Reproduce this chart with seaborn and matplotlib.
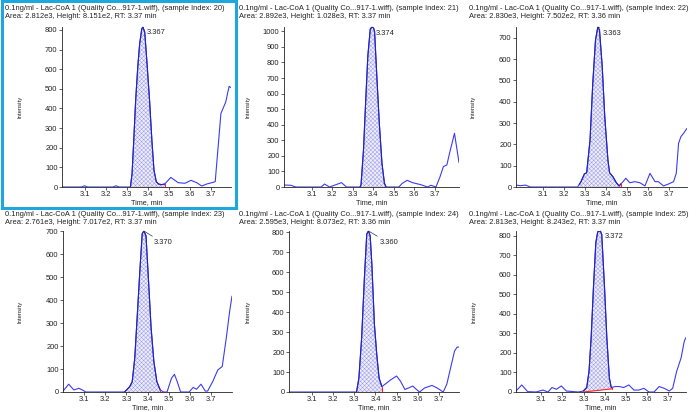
import numpy as np
import matplotlib
matplotlib.use('Agg')
import matplotlib.pyplot as plt
import seaborn as sns
from matplotlib.patches import Rectangle

# ── Chromatogram traces (time, min / intensity, cps) ─────
t20 = [2.993, 3.085, 3.1, 3.115, 3.235, 3.25, 3.265, 3.318, 3.326, 3.334, 3.343, 3.353, 3.362, 3.372, 3.377,
       3.386, 3.396, 3.409, 3.42, 3.43, 3.441, 3.452, 3.466, 3.481, 3.51, 3.545, 3.577, 3.606, 3.633, 3.657,
       3.68, 3.705, 3.721, 3.748, 3.771, 3.787, 3.796]
i20 = [0, 0, 6, 0, 0, 6, 0, 0, 69, 239, 442, 611, 729, 805, 815,
       790, 645, 442, 239, 86, 27, 15, 12, 15, 49, 22, 19, 34, 22, 5,
       15, 22, 27, 374, 433, 513, 506]

t21 = [2.965, 2.998, 3.023, 3.146, 3.162, 3.187, 3.245, 3.269, 3.335, 3.34, 3.352, 3.363, 3.373, 3.385, 3.393,
       3.401, 3.406, 3.417, 3.429, 3.442, 3.454, 3.462, 3.524, 3.541, 3.565, 3.59, 3.631, 3.664, 3.68, 3.705,
       3.725, 3.741, 3.758, 3.771, 3.795, 3.817]
i21 = [13, 11, 0, 0, 19, 0, 28, 0, 0, 13, 238, 560, 839, 1015, 1028,
       1021, 1000, 710, 410, 152, 24, 0, 0, 24, 43, 28, 15, 0, 11, 0,
       67, 131, 142, 217, 345, 157]

t22 = [2.972, 2.993, 3.017, 3.041, 3.265, 3.281, 3.297, 3.308, 3.324, 3.337, 3.35, 3.361, 3.369, 3.382, 3.394,
       3.409, 3.417, 3.433, 3.449, 3.462, 3.481, 3.494, 3.513, 3.537, 3.561, 3.585, 3.609, 3.633, 3.649, 3.673,
       3.697, 3.721, 3.734, 3.745, 3.756, 3.769, 3.785]
i22 = [9, 6, 9, 0, 0, 25, 61, 67, 220, 486, 689, 750, 736, 564, 330,
       127, 67, 48, 20, 5, 25, 41, 20, 25, 20, 5, 64, 25, 25, 5,
       14, 25, 64, 205, 236, 252, 275]

t23 = [3.001, 3.028, 3.052, 3.076, 3.092, 3.108, 3.291, 3.315, 3.327, 3.339, 3.352, 3.363, 3.374, 3.382, 3.392,
       3.403, 3.416, 3.429, 3.443, 3.459, 3.475, 3.491, 3.512, 3.526, 3.539, 3.555, 3.595, 3.614, 3.63, 3.651,
       3.671, 3.682, 3.706, 3.73, 3.751, 3.77, 3.786, 3.797]
i23 = [4, 34, 9, 16, 9, 0, 0, 23, 45, 148, 352, 528, 690, 702, 681,
       499, 279, 133, 45, 9, 0, 0, 60, 77, 45, 0, 0, 20, 12, 34,
       4, 4, 45, 96, 111, 235, 352, 418]

t24 = [2.994, 3.311, 3.322, 3.335, 3.348, 3.359, 3.367, 3.375, 3.383, 3.395, 3.406, 3.417, 3.43, 3.446, 3.47,
       3.499, 3.517, 3.538, 3.555, 3.575, 3.59, 3.607, 3.63, 3.665, 3.69, 3.718, 3.735, 3.748, 3.771, 3.783,
       3.792]
i24 = [0, 0, 69, 271, 573, 792, 807, 783, 640, 338, 187, 69, 27, 40, 60,
       80, 55, 13, 20, 30, 15, 0, 20, 33, 20, 0, 40, 100, 205, 225,
       225]

t25 = [2.981, 3.008, 3.036, 3.076, 3.108, 3.132, 3.151, 3.172, 3.195, 3.219, 3.275, 3.299, 3.315, 3.326, 3.336,
       3.347, 3.358, 3.367, 3.379, 3.386, 3.399, 3.41, 3.422, 3.431, 3.45, 3.469, 3.49, 3.514, 3.538, 3.562,
       3.585, 3.609, 3.633, 3.657, 3.681, 3.705, 3.721, 3.74, 3.761, 3.776, 3.784]
i25 = [5, 36, 2, 0, 10, 0, 23, 14, 31, 5, 0, 5, 23, 106, 279,
       539, 764, 820, 824, 807, 539, 279, 71, 23, 28, 28, 23, 36, 10, 10,
       19, 0, 0, 28, 19, 5, 19, 106, 175, 261, 279]

sample_index = [20, 21, 22, 23, 24, 25]
areas = ['2.812e3', '2.892e3', '2.830e3', '2.761e3', '2.595e3', '2.813e3']
heights = ['8.151e2', '1.028e3', '7.502e2', '7.017e2', '8.073e2', '8.243e2']
rts = ['3.37', '3.37', '3.36', '3.37', '3.36', '3.37']
apex_labels = ['3.367', '3.374', '3.363', '3.370', '3.360', '3.372']
y_max_tick = [800, 1000, 700, 700, 800, 800]

# integration window: start, end, baseline intensity at start / end
base_start = [3.318, 3.335, 3.273, 3.291, 3.311, 3.299]
base_end = [3.481, 3.462, 3.473, 3.459, 3.430, 3.434]
base_y0 = [0, 0, 0, 0, 0, 0]
base_y1 = [0, 0, 0, 0, 0, 16]

traces = [(t20, i20), (t21, i21), (t22, i22), (t23, i23), (t24, i24), (t25, i25)]
x_ticks = [3.1, 3.2, 3.3, 3.4, 3.5, 3.6, 3.7]

# ── Style / layout (pixels on a 696x412 canvas) ──────────
W, H = 696, 412
boxes = [(62, 27, 231, 187), (284, 27, 459, 187), (516, 27, 687, 187),
         (63, 231, 232, 392), (289, 231, 459, 392), (516, 231, 686, 392)]
title_x = [5, 239, 469, 5, 239, 469]
title_y = [8, 8, 8, 214, 214, 214]
ylab_x = [20, 248, 473, 20, 248, 474]
label_off = [(4, -6), (4, -6), (5, -6), (10, -12), (11, -12), (4, -6)]

LINE = '#3c3cf2'
PEAK = '#2424b8'
HATCH = '#9c9ce6'
FS = 5.4

sns.set_theme(style='white')
plt.rcParams['font.family'] = ['Liberation Sans', 'DejaVu Sans']
plt.rcParams['hatch.linewidth'] = 0.35

fig = plt.figure(figsize=(W / 100, H / 100), dpi=100)

for k, (t, y) in enumerate(traces):
    l, tp, r, b = boxes[k]
    ax = fig.add_axes([l / W, 1 - b / H, (r - l) / W, (b - tp) / H])
    t = np.array(t, dtype=float)
    y = np.array(y, dtype=float)

    sns.lineplot(x=t, y=y, ax=ax, color=LINE, linewidth=0.8, estimator=None, sort=False)

    # integrated peak area
    s, e = base_start[k], base_end[k]
    inside = (t > s) & (t < e)
    tt = np.concatenate([[s], t[inside], [e]])
    yy = np.concatenate([[np.interp(s, t, y)], y[inside], [np.interp(e, t, y)]])
    bb = base_y0[k] + (base_y1[k] - base_y0[k]) * (tt - s) / (e - s)
    ax.fill_between(tt, bb, np.maximum(yy, bb), facecolor='#eeeefc', edgecolor=HATCH,
                    hatch='xxxxxxxx', linewidth=0)
    ax.plot(tt, yy, color=PEAK, linewidth=0.8)
    ax.plot([s, e], [base_y0[k], base_y1[k]], color='#ff2020', linewidth=0.8)
    ax.plot([e, e], [base_y1[k], yy[-1]], color='#ff2020', linewidth=0.8)

    # apex label
    j = int(np.argmax(y))
    ax.annotate(apex_labels[k], xy=(t[j], y[j]), xytext=label_off[k], textcoords='offset pixels',
                fontsize=FS, ha='left', va='center', color='#222222', annotation_clip=False,
                arrowprops=dict(arrowstyle='-', color='#333333', lw=0.5, shrinkA=0, shrinkB=0))

    ax.set_xlim(t[0], t[-1])
    ax.set_ylim(0, y.max())
    ax.set_xticks(x_ticks)
    ax.set_xticklabels([f'{v:.1f}' for v in x_ticks])
    ax.set_yticks(np.arange(0, y_max_tick[k] + 1, 100))
    ax.tick_params(axis='both', labelsize=FS, length=2, width=0.5, pad=1.2, colors='#222222',
                   direction='out', bottom=True, left=True)
    for side in ['top', 'right']:
        ax.spines[side].set_visible(False)
    for side in ['left', 'bottom']:
        ax.spines[side].set_color('#222222')
        ax.spines[side].set_linewidth(0.6)
    ax.set_xlabel('Time, min', fontsize=5.2, labelpad=0.2, color='#222222')
    ax.set_ylabel('')
    ax.grid(False)

    # panel header
    fig.text(title_x[k] / W, 1 - title_y[k] / H,
             f'0.1ng/ml - Lac-CoA 1 (Quality Co...917-1.wiff), (sample Index: {sample_index[k]})',
             fontsize=5.4, ha='left', va='center', color='#222222')
    fig.text(title_x[k] / W, 1 - (title_y[k] + 9) / H,
             f'Area: {areas[k]}, Height: {heights[k]}, RT: {rts[k]} min',
             fontsize=5.4, ha='left', va='center', color='#222222')
    fig.text(ylab_x[k] / W, 1 - ((tp + b) / 2) / H, 'Intensity', rotation=90,
             fontsize=4.2, ha='center', va='center', color='#222222')

# selected panel frame
fig.patches.append(Rectangle((1.5 / W, 1 - 208 / H), 234 / W, 206.5 / H, transform=fig.transFigure,
                             fill=False, edgecolor='#1ea7dc', linewidth=2.2))

fig.savefig('out.png', dpi=100, facecolor='white')
plt.close(fig)
